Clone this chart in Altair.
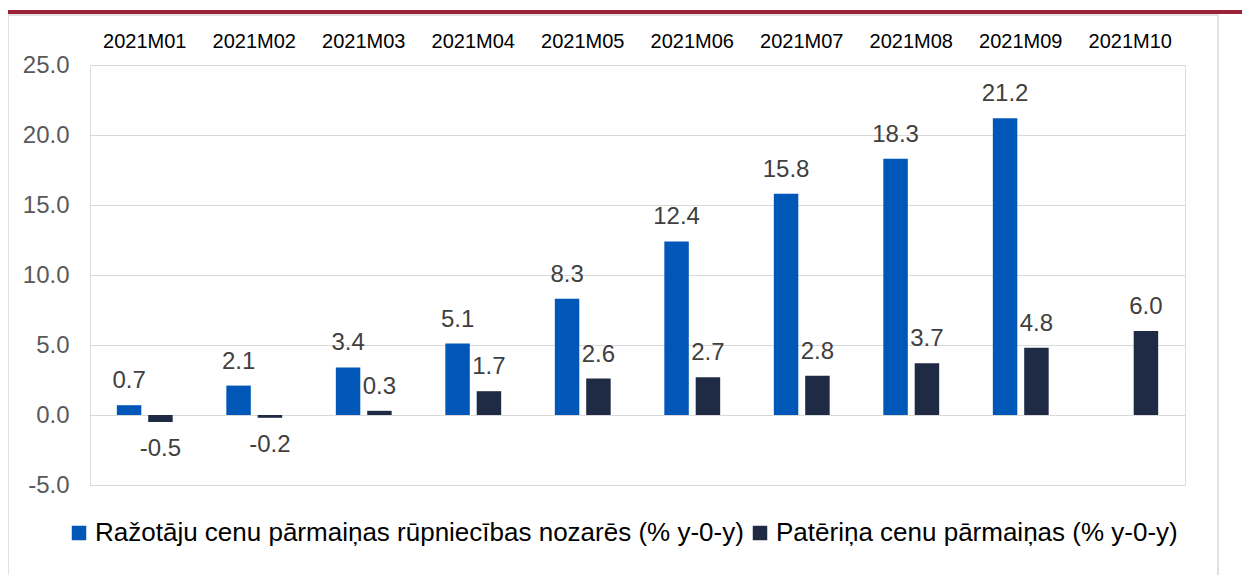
import altair as alt
import pandas as pd

months = ["2021M01", "2021M02", "2021M03", "2021M04", "2021M05",
          "2021M06", "2021M07", "2021M08", "2021M09", "2021M10"]
series_names = ["Ražotāju cenu pārmaiņas rūpniecības nozarēs (% y-0-y)",
                "Patēriņa cenu pārmaiņas (% y-0-y)"]
ppi = [0.7, 2.1, 3.4, 5.1, 8.3, 12.4, 15.8, 18.3, 21.2, None]
cpi = [-0.5, -0.2, 0.3, 1.7, 2.6, 2.7, 2.8, 3.7, 4.8, 6.0]
colors = ["#0057B8", "#1F2A44"]
y_ticks = [-5, 0, 5, 10, 15, 20, 25]

rows = []
for m, a, b in zip(months, ppi, cpi):
    if a is not None:
        rows.append({"month": m, "series": series_names[0], "value": a})
    if b is not None:
        rows.append({"month": m, "series": series_names[1], "value": b})
df = pd.DataFrame(rows)

FONT = "Liberation Sans"
W, H = 1095, 420

x_enc = alt.X("month:N", sort=months,
              scale=alt.Scale(paddingInner=0.49, paddingOuter=0.245),
              axis=alt.Axis(orient="top", title=None, labelAngle=0, labelFontSize=20,
                            labelColor="#000000", labelPadding=14, domain=False,
                            ticks=False, grid=False, labelFont=FONT))
xo_enc = alt.XOffset("series:N", sort=series_names,
                     scale=alt.Scale(paddingInner=0.22, paddingOuter=0))
y_enc = alt.Y("value:Q",
              scale=alt.Scale(domain=[-5, 25], nice=False, zero=False),
              axis=alt.Axis(title=None, values=y_ticks, domain=False, ticks=False,
                            grid=True, gridColor="#D9D9D9", gridWidth=1.2,
                            labelFontSize=24, labelColor="#595959", labelPadding=21,
                            labelFont=FONT,
                            labelExpr="replace(format(datum.value, '.1f'), '\u2212', '-')"))

base = alt.Chart(df)

bars = base.mark_bar().encode(
    x=x_enc, xOffset=xo_enc, y=y_enc,
    color=alt.Color("series:N", sort=series_names,
                    scale=alt.Scale(domain=series_names, range=colors),
                    legend=alt.Legend(title=None, orient="none", direction="horizontal",
                                      legendX=-24, legendY=455, symbolType="square",
                                      symbolSize=210, symbolStrokeWidth=0,
                                      labelFontSize=26, labelColor="#000000",
                                      labelFont=FONT, labelLimit=900, labelOffset=3,
                                      columnPadding=3, padding=0)),
)

labels_base = base.transform_calculate(
    label="replace(format(datum.value, '.1f'), '\u2212', '-')"
)

pos_text = labels_base.transform_filter("datum.value >= 0").mark_text(
    fontSize=24, color="#404040", font=FONT, baseline="alphabetic", dy=-17
).encode(x=alt.X("month:N", sort=months), xOffset=alt.XOffset("series:N", sort=series_names),
         y="value:Q", text="label:N")

neg_text = labels_base.transform_filter("datum.value < 0").mark_text(
    fontSize=24, color="#404040", font=FONT, baseline="alphabetic", dy=34
).encode(x=alt.X("month:N", sort=months), xOffset=alt.XOffset("series:N", sort=series_names),
         y="value:Q", text="label:N")

deco = pd.DataFrame({"k": [0]})
red_line = alt.Chart(deco).mark_rule(color="#9B2335", strokeWidth=4).encode(
    x=alt.value(-90), x2=alt.value(1160), y=alt.value(-53)
)
border = alt.Chart(deco).mark_rect(fill=None, stroke="#D9D9D9", strokeWidth=1.5).encode(
    x=alt.value(-82), x2=alt.value(1128), y=alt.value(-50), y2=alt.value(540)
)

chart = alt.layer(border, red_line, bars, pos_text, neg_text).properties(
    width=W, height=H,
    autosize=alt.AutoSizeParams(type="none"),
    padding={"left": 82, "top": 57, "right": 57, "bottom": 90},
).configure_view(stroke=None).configure(background="white")

chart.save("out.html", embed_options={"renderer": "svg", "actions": False})
